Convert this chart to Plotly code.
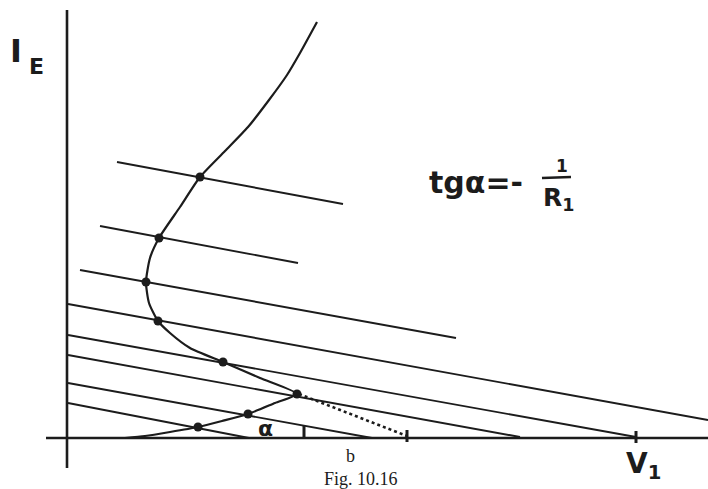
import plotly.graph_objects as go

# Coordinates: x measured rightwards from the I_E axis, y upwards from the V_1 axis.
OX, OY = 68, 438

def cx(v):
    return [p - OX for p in v]

def cy(v):
    return [OY - p for p in v]

# Input characteristic I_E(V_1) with an S-shaped region
curve_x = [317, 300, 287, 269, 248, 225, 200, 180, 159, 150, 146, 149, 158, 170, 190, 223, 260, 297, 275, 248, 222, 198, 170, 145, 125]
curve_y = [22, 53, 75, 100, 127, 151, 177, 207, 238, 258, 282, 303, 321, 333, 348, 362, 378, 394, 403, 414, 421, 427, 432, 436, 438]

# Load lines of slope -1/R1 (start and end points)
load_x0 = [117, 100, 80, 68, 68, 68, 68, 68]
load_y0 = [162, 226, 270, 304, 335, 355, 383, 403]
load_x1 = [343, 298, 456, 708, 636, 520, 372, 249]
load_y1 = [204, 263, 338, 420, 437, 437, 438, 438]

# Operating points (intersections of the curve with the load lines)
op_x = [200, 159, 146, 158, 223, 297, 248, 198]
op_y = [177, 238, 282, 321, 362, 394, 414, 427]

# Dotted jump from the turning point down to the axis
jump_x = [299, 407]
jump_y = [394, 436]

INK = "#1c1c1c"
fig = go.Figure()

# axes
fig.add_trace(go.Scatter(x=cx([67, 67]), y=cy([10, 468]), mode="lines",
                         line=dict(color=INK, width=2.6), hoverinfo="skip"))
fig.add_trace(go.Scatter(x=cx([46, 708]), y=cy([438, 438]), mode="lines",
                         line=dict(color=INK, width=2.6), hoverinfo="skip"))

# load lines
for a, b, c, d in zip(load_x0, load_y0, load_x1, load_y1):
    fig.add_trace(go.Scatter(x=cx([a, c]), y=cy([b, d]), mode="lines",
                             line=dict(color=INK, width=1.9), hoverinfo="skip"))

# characteristic
fig.add_trace(go.Scatter(x=cx(curve_x), y=cy(curve_y), mode="lines",
                         line=dict(color=INK, width=2.2, shape="spline", smoothing=0.6),
                         hoverinfo="skip"))

# dotted jump
fig.add_trace(go.Scatter(x=cx(jump_x), y=cy(jump_y), mode="lines",
                         line=dict(color=INK, width=2.6, dash="dot"), hoverinfo="skip"))

# operating points
fig.add_trace(go.Scatter(x=cx(op_x), y=cy(op_y), mode="markers",
                         marker=dict(color=INK, size=9), hoverinfo="skip"))

# small ticks: b, end of jump, V_1
tick_x = [304, 407, 636]
tick_y0 = [426, 430, 431]
tick_y1 = [438, 442, 443]
for a, b, c in zip(tick_x, tick_y0, tick_y1):
    fig.add_trace(go.Scatter(x=cx([a, a]), y=cy([b, c]), mode="lines",
                             line=dict(color=INK, width=3), hoverinfo="skip"))

# fraction bar of 1/R1
fig.add_trace(go.Scatter(x=cx([542, 571]), y=cy([178, 177]), mode="lines",
                         line=dict(color=INK, width=2.4), hoverinfo="skip"))

hand = "DejaVu Sans"
serif = "Liberation Serif"
notes = [
    (16, 51, "I", 32, hand, "bold"),
    (36, 66, "E", 22, hand, "bold"),
    (476, 182, "tgα=-", 30, hand, "bold"),
    (562, 166, "1", 17, hand, "bold"),
    (558, 199, "R<sub>1</sub>", 25, hand, "bold"),
    (265, 428, "α", 22, hand, "bold"),
    (350, 456, "b", 18, serif, "normal"),
    (361, 479, "Fig. 10.16", 18, serif, "normal"),
    (643, 465, "V<sub>1</sub>", 28, hand, "bold"),
]
for x, y, t, s, f, w in notes:
    fig.add_annotation(x=x - OX, y=OY - y, text=t, showarrow=False,
                       font=dict(size=s, family=f, color=INK, weight=w),
                       xanchor="center", yanchor="middle")

fig.update_layout(
    width=708, height=489, margin=dict(l=0, r=0, t=0, b=0),
    paper_bgcolor="white", plot_bgcolor="white", showlegend=False,
    xaxis=dict(range=[-OX, 708 - OX], visible=False, fixedrange=True),
    yaxis=dict(range=[OY - 489, OY], visible=False, fixedrange=True),
)

fig.write_html("out.html")
